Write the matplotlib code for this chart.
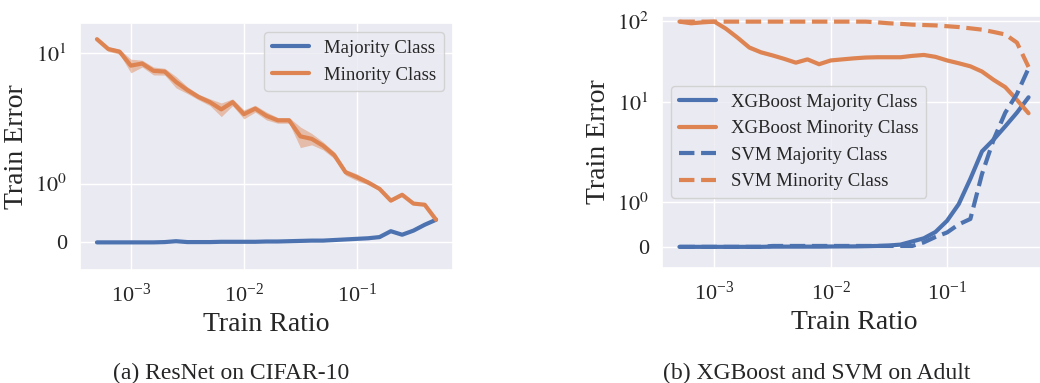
# train error vs train ratio, two panels
import numpy as np
import matplotlib
matplotlib.use('Agg')
import matplotlib.pyplot as plt
import seaborn as sns

# x values (train ratio), 31 log-spaced points from 5e-4 to 0.5
train_ratio = 10 ** np.linspace(-3.3, -0.3, 31)

# panel (a) ResNet on CIFAR-10
resnet_majority = [0.0, 0.0, 0.0, 0.0, 0.0, 0.0, 0.005, 0.02, 0.005, 0.005,
                   0.005, 0.01, 0.01, 0.01, 0.01, 0.015, 0.015, 0.02, 0.025, 0.03,
                   0.03, 0.04, 0.05, 0.06, 0.07, 0.09, 0.19, 0.13, 0.2, 0.3, 0.385]
resnet_minority = [13.5, 10.9, 10.3, 8.0, 8.3, 7.3, 7.2, 6.0, 5.2, 4.6,
                   4.2, 3.7, 4.2, 3.4, 3.75, 3.3, 3.05, 3.05, 2.3, 2.2,
                   1.95, 1.65, 1.22, 1.12, 1.02, 0.91, 0.71, 0.81, 0.66, 0.64, 0.385]
# relative spread of the minority band
resnet_minority_spread = [0.04, 0.05, 0.05, 0.12, 0.06, 0.07, 0.06, 0.10, 0.06, 0.05,
                          0.06, 0.12, 0.06, 0.08, 0.06, 0.07, 0.05, 0.05, 0.18, 0.10,
                          0.07, 0.06, 0.05, 0.06, 0.04, 0.03, 0.03, 0.03, 0.03, 0.02, 0.02]

# panel (b) XGBoost and SVM on Adult
xgb_majority = [0.0, 0.0, 0.0, 0.0, 0.0, 0.0, 0.0, 0.0, 0.005, 0.005,
                0.005, 0.005, 0.005, 0.008, 0.01, 0.01, 0.015, 0.02, 0.03, 0.05,
                0.12, 0.19, 0.33, 0.58, 0.95, 1.7, 3.2, 4.2, 5.7, 7.8, 11.4]
xgb_minority = [98, 93.5, 96, 98, 80, 62, 47, 41, 37.5, 34,
                30.5, 33.5, 29.2, 32.5, 33.5, 34.5, 35.3, 35.6, 35.6, 35.6,
                37, 38, 36, 32.5, 30, 27.5, 23.7, 18.7, 15.2, 10.6, 7.7]
xgb_minority_spread = [0.01, 0.01, 0.01, 0.02, 0.04, 0.06, 0.06, 0.05, 0.04, 0.03,
                       0.02, 0.02, 0.02, 0.02, 0.02, 0.01, 0.01, 0.01, 0.01, 0.01,
                       0.01, 0.01, 0.01, 0.01, 0.01, 0.01, 0.01, 0.01, 0.01, 0.01, 0.01]
svm_majority = [0.0, 0.0, 0.0, 0.0, 0.0, 0.0, 0.0, 0.0, 0.02, 0.02,
                0.02, 0.02, 0.02, 0.02, 0.02, 0.02, 0.02, 0.02, 0.02, 0.02,
                0.02, 0.1, 0.22, 0.32, 0.5, 0.62, 1.9, 4.2, 7.8, 12.5, 26]
svm_minority = [98, 98, 98, 98, 98, 98, 98, 98, 98, 98,
                98, 98, 98, 98, 98, 98, 98, 96, 93.5, 92,
                90, 89, 88, 86, 84, 81, 78, 73, 68, 54, 27]

y_ticks = [0, 1, 10, 100]
y_tick_labels = ['0', r'$10^{0}$', r'$10^{1}$', r'$10^{2}$']


# symlog-like y scale: linear below 1, log above, last decade squeezed
def fwd(y):
    y = np.asarray(y, dtype=float)
    a = np.abs(y)
    L = np.log10(np.maximum(a, 1.0))
    out = np.where(a <= 1, 0.45 * a, np.where(L <= 1, 0.45 + L, 1.45 + 0.81 * (L - 1)))
    return np.sign(y) * out


def inv(u):
    u = np.asarray(u, dtype=float)
    a = np.clip(np.abs(u), 0, 6)
    out = np.where(a <= 0.45, a / 0.45,
                   np.where(a <= 1.45, 10 ** (a - 0.45), 10 ** (1 + (a - 1.45) / 0.81)))
    return np.sign(u) * out


sns.set_theme(style='darkgrid')
plt.rcParams['font.family'] = ['Liberation Serif', 'DejaVu Serif']
plt.rcParams['mathtext.fontset'] = 'stix'

blue = sns.color_palette('deep')[0]
orange = sns.color_palette('deep')[1]

fig = plt.figure(figsize=(10.4, 3.83), dpi=100)
ax1 = fig.add_axes([80 / 1040, 1 - 270 / 383, 373 / 1040, 247 / 383])
ax2 = fig.add_axes([662 / 1040, 1 - 268 / 383, 384 / 1040, 252 / 383])

# left panel
mn = np.array(resnet_minority)
sp = np.array(resnet_minority_spread)
ax1.plot(train_ratio, resnet_majority, color=blue, lw=3, label='Majority Class')
ax1.plot(train_ratio, resnet_minority, color=orange, lw=3, label='Minority Class')
ax1.fill_between(train_ratio, mn * (1 - sp), mn * (1 + sp), color=orange, alpha=0.45, lw=0)

# right panel
mn2 = np.array(xgb_minority)
sp2 = np.array(xgb_minority_spread)
ax2.plot(train_ratio, xgb_majority, color=blue, lw=3, label='XGBoost Majority Class')
ax2.plot(train_ratio, xgb_minority, color=orange, lw=3, label='XGBoost Minority Class')
ax2.fill_between(train_ratio, mn2 * (1 - sp2), mn2 * (1 + sp2), color=orange, alpha=0.3, lw=0)
ax2.plot(train_ratio, svm_majority, color=blue, lw=3, ls='--', label='SVM Majority Class')
ax2.plot(train_ratio, svm_minority, color=orange, lw=3, ls='--', label='SVM Minority Class')

for ax, top, nt in [(ax1, 19.2, 3), (ax2, 115, 4)]:
    ax.set_xscale('log')
    ax.set_yscale('function', functions=(fwd, inv))
    ax.set_xlim(10 ** -3.45, 10 ** -0.15)
    ax.set_ylim(-0.47, top)
    ax.set_yticks(y_ticks[:nt], y_tick_labels[:nt])
    ax.set_xticks([1e-3, 1e-2, 1e-1])
    ax.minorticks_off()
    ax.tick_params(labelsize=16)
    ax.set_xlabel('Train Ratio', fontsize=20)
    ax.set_ylabel('Train Error', fontsize=20)

ax1.legend(loc='upper right', fontsize=13.5)
ax2.legend(loc='center left', fontsize=13.5)

# captions
fig.text(231 / 1040, 1 - 373 / 383, '(a) ResNet on CIFAR-10', ha='center', va='center', fontsize=17)
fig.text(817 / 1040, 1 - 373 / 383, '(b) XGBoost and SVM on Adult', ha='center', va='center', fontsize=17)

plt.savefig('out.png', dpi=100)
